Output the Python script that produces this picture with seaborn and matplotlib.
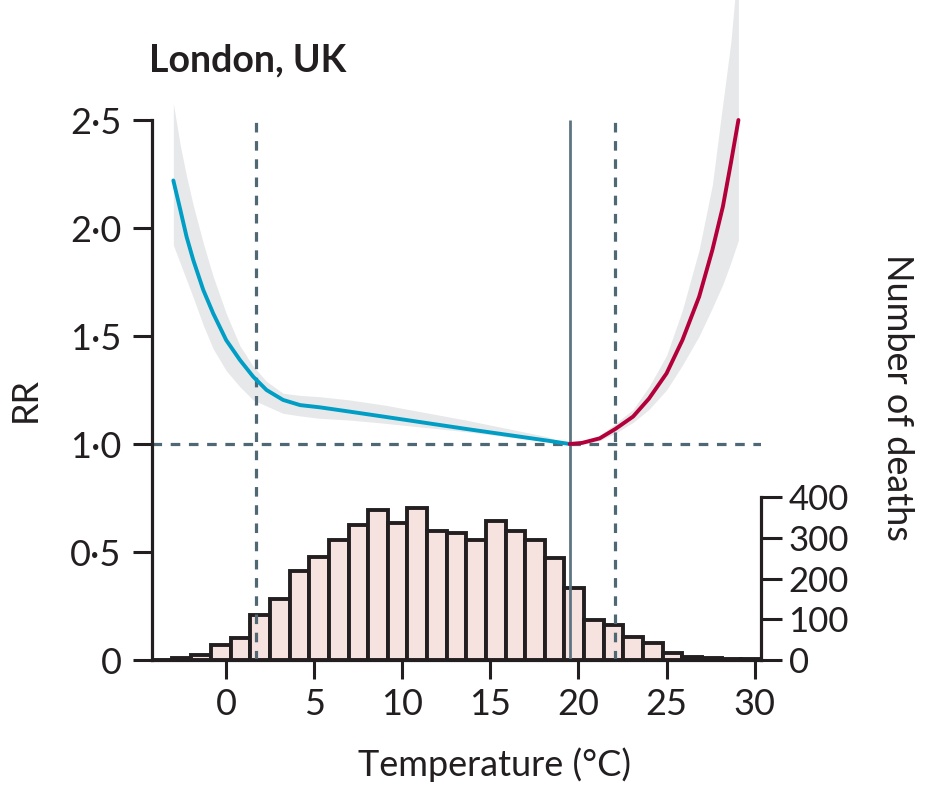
"""
London, UK - temperature / mortality association (RR) with deaths histogram
"""

import numpy as np
import pandas as pd
import seaborn as sns
import matplotlib.pyplot as plt

# RR curve, cold side (blue) and hot side (red), with CI band
cold_temp = [-3.0, -2.6, -2.25, -1.87, -1.3, -0.74, 0.0, 0.78, 1.53, 2.29, 3.23, 4.2, 5.3,
             7.0, 9.0, 13.6, 18.2, 19.5]
cold_rr = [2.22, 2.083, 1.96, 1.852, 1.713, 1.605, 1.481, 1.389, 1.312, 1.25, 1.204, 1.18, 1.17,
           1.15, 1.126, 1.07, 1.016, 1.0]
cold_upper = [2.577, 2.38, 2.24, 2.105, 1.93, 1.776, 1.605, 1.455, 1.36, 1.29, 1.235, 1.225, 1.219,
              1.204, 1.18, 1.111, 1.034, 1.0]
cold_lower = [1.921, 1.835, 1.76, 1.678, 1.55, 1.441, 1.34, 1.265, 1.204, 1.176, 1.142, 1.13, 1.119,
              1.111, 1.096, 1.057, 1.011, 1.0]

hot_temp = [19.5, 20.2, 21.2, 22.1, 23.1, 24.0, 25.0, 25.9, 26.85, 27.6, 28.2, 28.65, 29.08]
hot_rr = [1.0, 1.005, 1.026, 1.07, 1.127, 1.21, 1.327, 1.481, 1.682, 1.898, 2.10, 2.30, 2.5]
hot_upper = [1.0, 1.01, 1.04, 1.095, 1.16, 1.265, 1.41, 1.62, 1.90, 2.2, 2.58, 2.86, 3.25]
hot_lower = [1.0, 1.0, 1.015, 1.05, 1.10, 1.16, 1.25, 1.365, 1.50, 1.63, 1.74, 1.84, 1.944]

# percentiles (dashed) and minimum mortality temperature (solid)
pct_temps = [1.7, 22.1]
mmt = 19.5

# daily deaths histogram
deaths = [0, 6, 12, 36, 53, 110, 150, 219, 254, 295, 332, 369, 337, 374, 318, 313,
          295, 342, 316, 296, 250, 176, 99, 86, 56, 41, 18, 8, 5, 2, 2]
hist_lo, hist_hi = -4.2, 30.35

xticks = [0, 5, 10, 15, 20, 25, 30]
rr_ticks = [0, 0.5, 1.0, 1.5, 2.0, 2.5]
rr_labels = ["0", "0·5", "1·0", "1·5", "2·0", "2·5"]
death_ticks = [0, 100, 200, 300, 400]

# colores
BLUE = "#009dc4"
RED = "#b3003b"
BAND = "#e7e8ea"
SLATE = "#4f6874"
INK = "#231f20"
BARFACE = "#f6e2df"

sns.set_theme(style="ticks")
plt.rcParams['font.family'] = ['Lato', 'DejaVu Sans']
plt.rcParams['text.color'] = INK
plt.rcParams['axes.labelcolor'] = INK
plt.rcParams['xtick.color'] = INK
plt.rcParams['ytick.color'] = INK

fig = plt.figure(figsize=(9.44, 7.94), dpi=100)
ax = fig.add_axes([152.2 / 944, 1 - 660 / 794, 608.6 / 944, 660 / 794])
ax2 = ax.twinx()

# histograma en el eje secundario, detras
edges = np.linspace(hist_lo, hist_hi, len(deaths) + 1)
hist_df = pd.DataFrame({"temp": (edges[:-1] + edges[1:]) / 2, "deaths": deaths})
sns.histplot(data=hist_df, x="temp", weights="deaths", bins=list(edges), ax=ax2,
             color=BARFACE, edgecolor=INK, linewidth=2.8, alpha=1)
ax2.set_ylim(0, 1622)
ax.set_zorder(ax2.get_zorder() + 1)
ax.patch.set_visible(False)

# banda de confianza
ax.fill_between(cold_temp, cold_lower, cold_upper, color=BAND, lw=0, zorder=1)
ax.fill_between(hot_temp, hot_lower, hot_upper, color=BAND, lw=0, zorder=1)

# lineas de referencia
dash = (0, (3.0, 2.7))
ax.axhline(1.0, color=SLATE, lw=2.3, linestyle=dash, zorder=2)
ax.vlines(pct_temps, 0, 2.5, color=SLATE, lw=2.3, linestyles=[dash], zorder=2)
ax.vlines([mmt], 0, 2.5, color="#5d7581", lw=2.0, zorder=2)

# curvas
sns.lineplot(x=cold_temp, y=cold_rr, ax=ax, color=BLUE, lw=2.8, zorder=3)
sns.lineplot(x=hot_temp, y=hot_rr, ax=ax, color=RED, lw=2.8, zorder=3)

ax.set_xlim(hist_lo, hist_hi)
ax.set_ylim(0, 660 / 216)
ax2.set_xlim(hist_lo, hist_hi)

# ejes
ax.set_xticks(xticks)
ax.set_yticks(rr_ticks)
ax.set_yticklabels(rr_labels)
ax.tick_params(axis="both", labelsize=26, length=14, width=2.2, colors=INK)
ax.tick_params(axis="y", pad=8)
ax.tick_params(axis="x", pad=6)
for s in ["top", "right"]:
    ax.spines[s].set_visible(False)
ax.spines["left"].set_bounds(0, 2.5)
for s in ["left", "bottom"]:
    ax.spines[s].set_linewidth(2.3)
    ax.spines[s].set_color(INK)

ax2.set_yticks(death_ticks)
ax2.tick_params(axis="y", labelsize=25, length=15, width=2.2, pad=5, colors=INK)
for s in ["top", "left", "bottom"]:
    ax2.spines[s].set_visible(False)
ax2.spines["right"].set_bounds(0, 400)
ax2.spines["right"].set_linewidth(2.3)
ax2.spines["right"].set_color(INK)

# etiquetas
ax.set_xlabel("Temperature (°C)", fontsize=26)
ax.xaxis.label.set_va("center")
ax.xaxis.set_label_coords(0.563, -0.159)
ax.set_ylabel("RR", fontsize=26)
ax.yaxis.label.set_va("center")
ax.yaxis.set_label_coords(-0.209, 0.394)
ax2.set_ylabel("Number of deaths", fontsize=26, rotation=270)
ax2.yaxis.label.set_va("center")
ax2.yaxis.label.set_ha("center")
ax2.yaxis.set_label_coords(1.224, 0.398)

ax.text(-0.005, (660 - 60) / 660, "London, UK", transform=ax.transAxes,
        ha="left", va="center", fontsize=27, fontweight="bold", color=INK)

fig.savefig("out.png", dpi=100)
